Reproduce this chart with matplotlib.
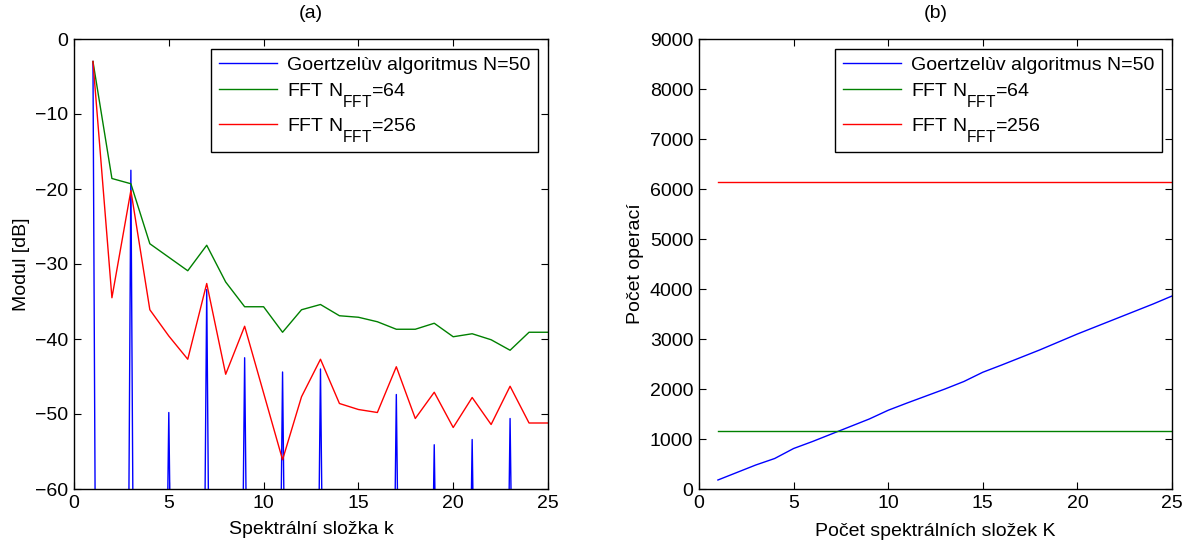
import numpy as np
import matplotlib
matplotlib.use("Agg")
import matplotlib.pyplot as plt
import matplotlib._mathtext as _mt

plt.rcParams['font.family'] = ['Liberation Sans', 'DejaVu Sans']
plt.rcParams['mathtext.fontset'] = 'custom'
plt.rcParams['mathtext.rm'] = 'Liberation Sans'
plt.rcParams['mathtext.it'] = 'Liberation Sans:italic'
plt.rcParams['font.size'] = 14

# MATLAB-like subscripts: a bit larger and lower
try:
    _mt.SHRINK_FACTOR = 0.8
    _mt.FontConstantsBase.sub1 = 1.1
    _mt.FontConstantsBase.sub2 = 1.1
except Exception:
    pass

# ---- data (a) ----
k = list(range(1, 26))
fft64_db = [-3, -18.6, -19.3, -27.3, -29.1, -30.9, -27.5, -32.4, -35.7, -35.7,
            -39.1, -36.1, -35.4, -36.9, -37.1, -37.7, -38.7, -38.7, -37.9, -39.7,
            -39.3, -40.1, -41.5, -39.1, -39.1]
fft256_db = [-3, -34.5, -20.2, -36.1, -39.6, -42.7, -32.6, -44.7, -38.3, -47.2,
             -56.1, -47.7, -42.7, -48.6, -49.4, -49.8, -43.7, -50.6, -47.1, -51.8,
             -47.8, -51.4, -46.3, -51.2, -51.2]
goertzel_k = [1, 3, 5, 7, 9, 11, 13, 17, 19, 21, 23]
goertzel_db = [-3, -17.5, -49.8, -33.4, -42.5, -44.4, -44.0, -47.4, -54.1, -53.4, -50.6]
goertzel_floor = -80.0

# ---- data (b) ----
K = list(range(1, 26))
ops_goertzel = [180, 330, 480, 610, 810, 950, 1100, 1250, 1400, 1575, 1720, 1860, 2000,
                2150, 2335, 2480, 2630, 2780, 2940, 3100, 3250, 3400, 3550, 3700, 3860]
ops_fft64 = [1152] * len(K)
ops_fft256 = [6144] * len(K)

labels = ['Goertzelùv algoritmus N=50',
          'FFT $\\mathrm{N}_{\\mathrm{FFT}}$=64',
          'FFT $\\mathrm{N}_{\\mathrm{FFT}}$=256']

fig = plt.figure(figsize=(11.92, 5.41), dpi=100)
W, H = 1192, 541
ax1 = fig.add_axes([74 / W, (H - 489) / H, (548 - 74) / W, (489 - 39) / H])
ax2 = fig.add_axes([699 / W, (H - 489) / H, (1172 - 699) / W, (489 - 39) / H])

# build goertzel spike trace
gx, gy = [], []
hw = 0.15
for kk, v in zip(goertzel_k, goertzel_db):
    if kk != goertzel_k[0]:
        gx.append(kk - hw); gy.append(goertzel_floor)
    gx.append(kk); gy.append(v)
    gx.append(kk + hw); gy.append(goertzel_floor)
gx.append(25); gy.append(goertzel_floor)

blue, green, red = (0, 0, 1), (0, 0.5, 0), (1, 0, 0)
ax1.plot(gx, gy, color=blue, lw=1.0, label=labels[0])
ax1.plot(k, fft64_db, color=green, lw=1.0, label=labels[1])
ax1.plot(k, fft256_db, color=red, lw=1.0, label=labels[2])
ax1.set_xlim(0, 25)
ax1.set_ylim(-60, 0)
ax1.set_xticks(range(0, 26, 5))
ax1.set_yticks(range(-60, 1, 10))
ax1.set_xlabel('Spektrální složka k', labelpad=7)
ax1.set_ylabel('Modul [dB]', labelpad=4)
ax1.set_title('(a)', fontsize=14, pad=15)

ax2.plot(K, ops_goertzel, color=blue, lw=1.0, label=labels[0])
ax2.plot(K, ops_fft64, color=green, lw=1.0, label=labels[1])
ax2.plot(K, ops_fft256, color=red, lw=1.0, label=labels[2])
ax2.set_xlim(0, 25)
ax2.set_ylim(0, 9000)
ax2.set_xticks(range(0, 26, 5))
ax2.set_yticks(range(0, 9001, 1000))
ax2.set_xlabel('Počet spektrálních složek K', labelpad=8)
ax2.set_ylabel('Počet operací', labelpad=4)
ax2.set_title('(b)', fontsize=14, pad=15)

for ax in (ax1, ax2):
    ax.tick_params(direction='in', top=True, right=True, length=5, width=0.8,
                   labelsize=14, pad=4)
    for s in ax.spines.values():
        s.set_linewidth(1.0)
    leg = ax.legend(loc='upper right', fontsize=14, frameon=True, fancybox=False,
                    edgecolor='black', framealpha=1, handlelength=3.0,
                    handletextpad=0.5, borderpad=0.4, labelspacing=0.35,
                    borderaxespad=0.5)
    leg.get_frame().set_linewidth(1.0)

fig.savefig('out.png', dpi=100)
